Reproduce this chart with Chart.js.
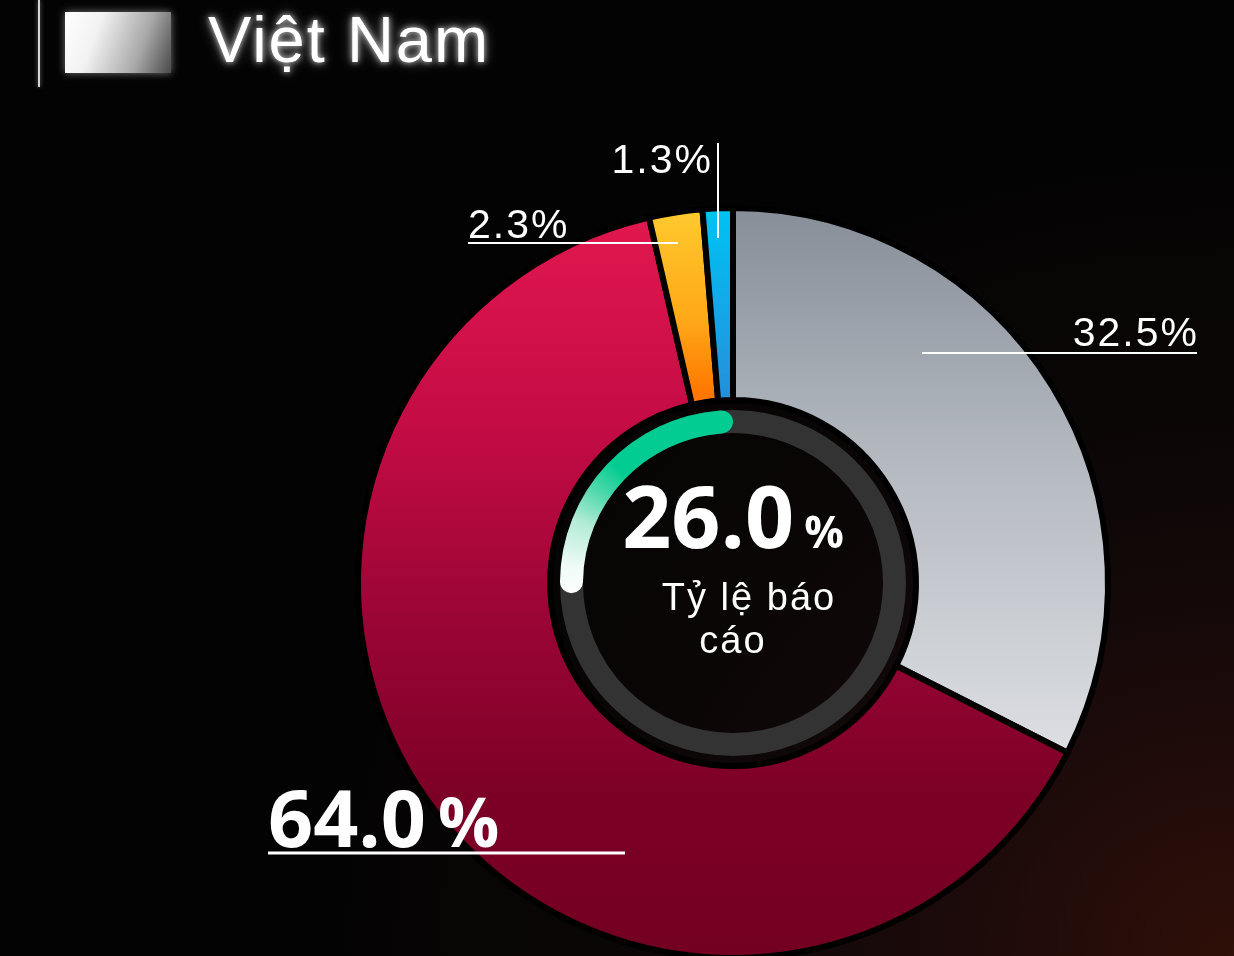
<!DOCTYPE html>
<html>
<head>
<meta charset="utf-8">
<script src="https://cdn.jsdelivr.net/npm/chart.js@4.4.0/dist/chart.umd.min.js"></script>
<style>
html, body { margin: 0; padding: 0; width: 1234px; height: 956px; overflow: hidden; }
body {
    position: relative;
    background: radial-gradient(ellipse 900px 800px at 100% 100%, #2f0f08 0%, #1c0b0a 30%, #0d0707 60%, #040303 100%);
    font-family: "Liberation Sans", Arial, sans-serif;
}
#ring { position: absolute; left: 0; top: 0; }
#gauge { position: absolute; left: 560px; top: 410px; }
.bar { position: absolute; left: 38px; top: 0; width: 2px; height: 87px; background: #d4d4d4; box-shadow: 0 0 4px rgba(255,255,255,.5); }
.swatch {
    position: absolute; left: 65px; top: 12px; width: 106px; height: 61px;
    background: linear-gradient(110deg, #ffffff 0%, #f2f2f2 30%, #a8a8a8 70%, #4a4a4a 100%);
    box-shadow: 0 0 8px rgba(255,255,255,.45);
}
.title {
    position: absolute; left: 208px; top: 8px; font-size: 65px; line-height: 64px;
    color: #fff; letter-spacing: 2px; white-space: nowrap;
    text-shadow: 0 0 6px rgba(255,255,255,.85), 0 0 14px rgba(255,255,255,.4);
}
</style>
</head>
<body>
<div class="bar"></div>
<div class="swatch"></div>
<div class="title" id="title"></div>
<canvas id="ring" width="1234" height="1000"></canvas>
<canvas id="gauge" width="346" height="346"></canvas>
<script>
// share of each group, clockwise from the top
const segmentLabels = ['Nhóm 1', 'Nhóm 2', 'Nhóm 3', 'Nhóm 4'];
const shareValues = [32.5, 64.0, 2.3, 1.3];
// reporting rate shown in the middle gauge
const reportRate = 26.0;
const legendLabel = 'Việt Nam';
const centerCaption = ['Tỷ lệ báo', 'cáo'];

// where each percentage label sits (x, baseline) and its leader line
const labelLayout = [
    { x: 1199, y: 346, align: 'right', line: [922, 353, 1197, 353] },
    { x: 268, y: 847, big: true, line: [268, 853, 625, 853] },
    { x: 468, y: 238, align: 'left', line: [468, 243, 678, 243] },
    { x: 713, y: 173, align: 'right', line: [718, 143, 718, 238] }
];

// vertical colour ramps per segment: [y, colour] stops in page pixels
const segmentRamps = [
    [[208, '#868e98'], [450, '#b3b8bf'], [750, '#dcdee2']],
    [[215, '#e2174f'], [420, '#c50c45'], [620, '#9a0535'], [800, '#7c0026'], [955, '#730021']],
    [[212, '#ffc92e'], [320, '#ffa818'], [395, '#ff7600']],
    [[212, '#00c2f3'], [395, '#2490dc']]
];

document.getElementById('title').textContent = legendLabel;

const fillCache = {};
function segmentFill(context) {
    const i = context.dataIndex;
    if (fillCache[i]) return fillCache[i];
    const ramp = segmentRamps[i];
    const y0 = ramp[0][0], y1 = ramp[ramp.length - 1][0];
    const g = context.chart.ctx.createLinearGradient(0, y0, 0, y1);
    ramp.forEach(s => g.addColorStop((s[0] - y0) / (y1 - y0), s[1]));
    fillCache[i] = g;
    return g;
}

const ringLabels = {
    id: 'ringLabels',
    afterDraw(chart) {
        const c = chart.ctx;
        c.save();
        c.fillStyle = '#fff';
        c.strokeStyle = '#fff';
        shareValues.forEach((v, i) => {
            const l = labelLayout[i];
            c.textBaseline = 'alphabetic';
            if (l.big) {
                c.letterSpacing = '0px';
                c.textAlign = 'left';
                c.font = 'bold 79px "Open Sans"';
                const num = v.toFixed(1);
                c.fillText(num, l.x, l.y);
                const w = c.measureText(num).width;
                c.font = 'bold 68px "Open Sans"';
                c.fillText('%', l.x + w + 12, l.y);
                c.lineWidth = 3;
            } else {
                c.letterSpacing = '2px';
                c.textAlign = l.align;
                c.font = '41px "Liberation Sans"';
                c.fillText(v.toFixed(1) + '%', l.x, l.y);
                c.lineWidth = 2;
            }
            c.beginPath();
            c.moveTo(l.line[0], l.line[1]);
            c.lineTo(l.line[2], l.line[3]);
            c.stroke();
        });
        c.restore();
    }
};

let gaugeGradient = null;
function gaugeFill(context) {
    if (context.dataIndex === 0) return 'rgba(0,0,0,0)';
    if (gaugeGradient) return gaugeGradient;
    const c = context.chart.ctx;
    const cx = context.chart.width / 2, cy = context.chart.height / 2;
    const start = -Math.PI / 2 - 2 * Math.PI * reportRate / 100 - 0.03;
    if (c.createConicGradient) {
        const g = c.createConicGradient(start, cx, cy);
        g.addColorStop(0, '#ffffff');
        g.addColorStop(0.03, '#f0fbf7');
        g.addColorStop(0.075, '#b3ecd7');
        g.addColorStop(0.105, '#5cdab0');
        g.addColorStop(0.14, '#02cc91');
        g.addColorStop(1, '#02cc91');
        gaugeGradient = g;
    } else {
        const g = c.createLinearGradient(0, 10, 0, 190);
        g.addColorStop(0, '#02cc91');
        g.addColorStop(0.4, '#02cc91');
        g.addColorStop(1, '#ffffff');
        gaugeGradient = g;
    }
    return gaugeGradient;
}

const gaugeTrack = {
    id: 'gaugeTrack',
    beforeDatasetsDraw(chart) {
        const meta = chart.getDatasetMeta(0);
        const arc = meta.data[0];
        const c = chart.ctx;
        c.save();
        c.strokeStyle = '#333333';
        c.lineWidth = arc.outerRadius - arc.innerRadius;
        c.beginPath();
        c.arc(arc.x, arc.y, (arc.outerRadius + arc.innerRadius) / 2, 0, Math.PI * 2);
        c.stroke();
        c.restore();
    },
    afterDraw(chart) {
        const c = chart.ctx;
        const cx = chart.width / 2;
        c.save();
        c.fillStyle = '#fff';
        c.textBaseline = 'alphabetic';
        c.textAlign = 'left';
        c.font = 'bold 86px "Open Sans"';
        const num = reportRate.toFixed(1);
        const w1 = c.measureText(num).width;
        c.font = 'bold 44px "Open Sans"';
        const w2 = c.measureText('%').width;
        const x0 = cx - (w1 + 10 + w2) / 2;
        c.font = 'bold 86px "Open Sans"';
        c.fillText(num, x0, 138);
        c.font = 'bold 44px "Open Sans"';
        c.fillText('%', x0 + w1 + 10, 138);
        c.font = '38px "Liberation Sans"';
        c.letterSpacing = '2px';
        c.textAlign = 'center';
        c.fillText(centerCaption[0], cx + 16, 200);
        c.fillText(centerCaption[1], cx, 243);
        c.restore();
    }
};

function build() {
    new Chart(document.getElementById('ring'), {
        type: 'doughnut',
        data: {
            labels: segmentLabels,
            datasets: [{
                data: shareValues,
                backgroundColor: segmentFill,
                borderColor: '#000',
                borderWidth: 6,
                hoverBorderWidth: 6,
                hoverOffset: 0
            }]
        },
        options: {
            responsive: false,
            animation: false,
            events: [],
            cutout: '48.8%',
            layout: { padding: { left: 355, top: 205, right: 123, bottom: 39 } },
            plugins: { legend: { display: false }, tooltip: { enabled: false } }
        },
        plugins: [ringLabels]
    });

    new Chart(document.getElementById('gauge'), {
        type: 'doughnut',
        data: {
            labels: ['', legendLabel],
            datasets: [{
                data: [100 - reportRate, reportRate],
                backgroundColor: gaugeFill,
                borderWidth: 0,
                hoverBorderWidth: 0,
                hoverOffset: 0,
                borderRadius: 12
            }]
        },
        options: {
            responsive: false,
            animation: false,
            events: [],
            cutout: '86.7%',
            plugins: { legend: { display: false }, tooltip: { enabled: false } }
        },
        plugins: [gaugeTrack]
    });
}

Promise.all([
    document.fonts.load('bold 80px "Open Sans"'),
    document.fonts.load('39px "Liberation Sans"')
]).then(build, build);
</script>
</body>
</html>
